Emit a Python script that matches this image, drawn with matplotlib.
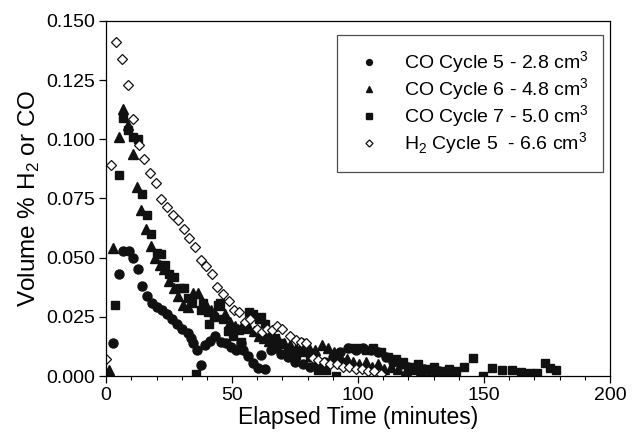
import numpy as np
import matplotlib
matplotlib.use("Agg")
import matplotlib.pyplot as plt
from matplotlib.ticker import MultipleLocator

plt.rcParams['font.family'] = ['Liberation Sans', 'DejaVu Sans']
plt.rcParams['mathtext.fontset'] = 'custom'
plt.rcParams['mathtext.rm'] = 'Liberation Sans'

# CO cycle 5 (circles)
t_co5 = [0, 2.8, 5.0, 6.8, 8.9, 10.6, 12.5, 14.1, 16.3, 18.3, 20.3, 22.3, 24.3,
         26.3, 28.3, 30.3, 32.3, 33.5, 34.6, 36.2, 37.8, 39.4, 41.4, 43.4, 45.5,
         47.5, 49.5, 51.5, 53.5, 54.5, 56.2, 58.2, 60.2, 61.6, 63.2, 65.5, 67.5,
         69.5, 72, 75, 78, 81, 84, 87, 90, 93, 96, 99, 102, 105, 108, 111, 114,
         117, 120, 123, 126, 129, 132, 135, 138]
v_co5 = [0.000, 0.014, 0.043, 0.053, 0.053, 0.050, 0.045, 0.038, 0.034, 0.031,
         0.029, 0.028, 0.026, 0.024, 0.022, 0.020, 0.018, 0.016, 0.014, 0.011,
         0.0047, 0.013, 0.015, 0.017, 0.0145, 0.014, 0.0124, 0.011, 0.0139,
         0.011, 0.0085, 0.0054, 0.0033, 0.0089, 0.0028, 0.011, 0.0117, 0.0095,
         0.008, 0.006, 0.005, 0.004, 0.005, 0.006, 0.008, 0.010, 0.012, 0.011,
         0.012, 0.011, 0.010, 0.008, 0.006, 0.005, 0.004, 0.003, 0.003, 0.002,
         0.002, 0.001, 0.001]

# CO cycle 6 (triangles)
t_co6 = [0, 1.2, 2.9, 4.9, 6.5, 8.5, 10.5, 12.1, 13.9, 15.9, 17.7, 19.5, 21.4,
         23.1, 25.0, 26.8, 28.6, 30.5, 32.3, 34.3, 36.3, 38.3, 40.0, 41.6, 43.3,
         45.0, 47.0, 49.0, 51.0, 52.5, 54.5, 56.5, 58.5, 60.5, 62.5, 64.5, 66.5,
         68.5, 70.5, 73, 75.5, 78, 80.5, 83, 85.5, 88, 90.5, 93, 95.5, 98, 100.5,
         103, 105.5, 108, 110.5, 113, 116, 119, 122, 125, 128, 131, 134]
v_co6 = [0.000, 0.0025, 0.054, 0.101, 0.113, 0.106, 0.094, 0.080, 0.070, 0.062,
         0.055, 0.050, 0.047, 0.045, 0.040, 0.037, 0.034, 0.030, 0.029, 0.035,
         0.035, 0.031, 0.029, 0.028, 0.026, 0.030, 0.026, 0.023, 0.021, 0.020,
         0.022, 0.021, 0.019, 0.017, 0.016, 0.015, 0.016, 0.015, 0.014, 0.013,
         0.012, 0.014, 0.012, 0.011, 0.013, 0.012, 0.010, 0.008, 0.007, 0.006,
         0.005, 0.006, 0.004, 0.005, 0.003, 0.004, 0.003, 0.002, 0.003, 0.002,
         0.001, 0.002, 0.001]

# CO cycle 7 (squares)
t_co7 = [0, 3.5, 5.2, 6.5, 8.5, 10.5, 12.5, 14.2, 16.2, 17.8, 20.0, 21.7, 23.3,
         25.0, 27.0, 29.3, 31.0, 32.3, 34.0, 35.7, 37.6, 38.3, 40.3, 41.0, 43.0,
         44.3, 45.0, 46.3, 48.2, 50.5, 53.6, 55.5, 56.9, 58.2, 60.8, 61.5, 63.0,
         64.8, 67, 69.5, 72, 75.4, 78, 81, 84, 87.4, 91.3, 94, 97, 100, 103, 106,
         109, 112, 115, 118, 121, 124, 127, 130, 133, 136, 139, 142, 145.7,
         149.6, 153, 157, 161, 164.9, 168.2, 171.2, 174.2, 176.1, 178.8]
v_co7 = [0.000, 0.030, 0.085, 0.109, 0.104, 0.101, 0.100, 0.077, 0.068, 0.060,
         0.052, 0.0516, 0.047, 0.043, 0.042, 0.037, 0.037, 0.033, 0.031, 0.0007,
         0.028, 0.031, 0.027, 0.022, 0.025, 0.030, 0.031, 0.024, 0.019, 0.017,
         0.0145, 0.020, 0.027, 0.026, 0.024, 0.025, 0.022, 0.018, 0.016, 0.014,
         0.012, 0.009, 0.010, 0.008, 0.0025, 0.0025, 0.000, 0.006, 0.012, 0.012,
         0.011, 0.012, 0.010, 0.008, 0.007, 0.006, 0.004, 0.005, 0.003, 0.004,
         0.002, 0.003, 0.002, 0.004, 0.0075, 0.000, 0.0033, 0.0025, 0.0025,
         0.0018, 0.0011, 0.0014, 0.0056, 0.0033, 0.0025]

# H2 cycle 5 (open diamonds)
t_h2 = [0, 1.9, 3.9, 6.2, 8.6, 10.6, 13.0, 15.2, 17.5, 19.7, 21.9, 24.1, 26.4,
        28.6, 30.9, 33.0, 35.3, 37.6, 39.8, 41.9, 44.2, 46.3, 48.6, 50.6, 52.9,
        55.1, 57.3, 59.8, 61.9, 64.0, 66.0, 68.0, 70.0, 72.8, 75.4, 77.4, 79.4,
        82.0, 84.0, 86.5, 89, 91.5, 94, 96.5, 99, 101.5, 104, 106.5, 109]
v_h2 = [0.007, 0.089, 0.141, 0.134, 0.123, 0.1085, 0.0976, 0.0915, 0.0859,
        0.0815, 0.0749, 0.0712, 0.0679, 0.0661, 0.0623, 0.0582, 0.0543, 0.0492,
        0.0466, 0.0429, 0.0377, 0.0345, 0.0315, 0.0280, 0.0271, 0.0230, 0.0241,
        0.0200, 0.0186, 0.0200, 0.0195, 0.0210, 0.0200, 0.0167, 0.0153, 0.0145,
        0.0139, 0.0075, 0.0068, 0.006, 0.005, 0.005, 0.004, 0.004, 0.003, 0.003,
        0.002, 0.002, 0.001]

fig = plt.figure(figsize=(6.32, 4.33), dpi=100)
ax = fig.add_axes([0.168, 0.1316, 0.797, 0.82])

ax.plot(t_co5, v_co5, 'o', color='#111111', ms=6.5, ls='none',
        label='CO Cycle 5 - 2.8 cm$^3$')
ax.plot(t_co6, v_co6, '^', color='#111111', ms=7.0, ls='none',
        label='CO Cycle 6 - 4.8 cm$^3$')
ax.plot(t_co7, v_co7, 's', color='#111111', ms=6.0, ls='none',
        label='CO Cycle 7 - 5.0 cm$^3$')
ax.plot(t_h2, v_h2, 'D', mfc='white', mec='#111111', mew=0.9, ms=5.5,
        ls='none', label='H$_2$ Cycle 5  - 6.6 cm$^3$')

ax.set_xlim(0, 200)
ax.set_ylim(0, 0.150)
ax.xaxis.set_major_locator(MultipleLocator(50))
ax.xaxis.set_minor_locator(MultipleLocator(10))
ax.yaxis.set_major_locator(MultipleLocator(0.025))
ax.yaxis.set_major_formatter(plt.FormatStrFormatter('%.3f'))
ax.tick_params(axis='both', which='major', direction='out', length=5,
               labelsize=14, width=0.9, pad=3)
ax.tick_params(axis='x', which='minor', direction='out', length=3, width=0.8)
ax.tick_params(top=False, right=False)
for sp in ax.spines.values():
    sp.set_linewidth(0.9)

ax.set_xlabel('Elapsed Time (minutes)', fontsize=16.5, labelpad=1)
ax.set_ylabel('Volume % H$_2$ or CO', fontsize=17.5, labelpad=3)

leg = ax.legend(loc='upper right', bbox_to_anchor=(0.986, 0.961),
                borderaxespad=0, fontsize=14, markerscale=0.65, frameon=True,
                fancybox=False, edgecolor='#222222', borderpad=0.75,
                handletextpad=0.9, labelspacing=0.02, handlelength=1.75)
leg.get_frame().set_linewidth(0.9)

fig.savefig('out.png', dpi=100)
